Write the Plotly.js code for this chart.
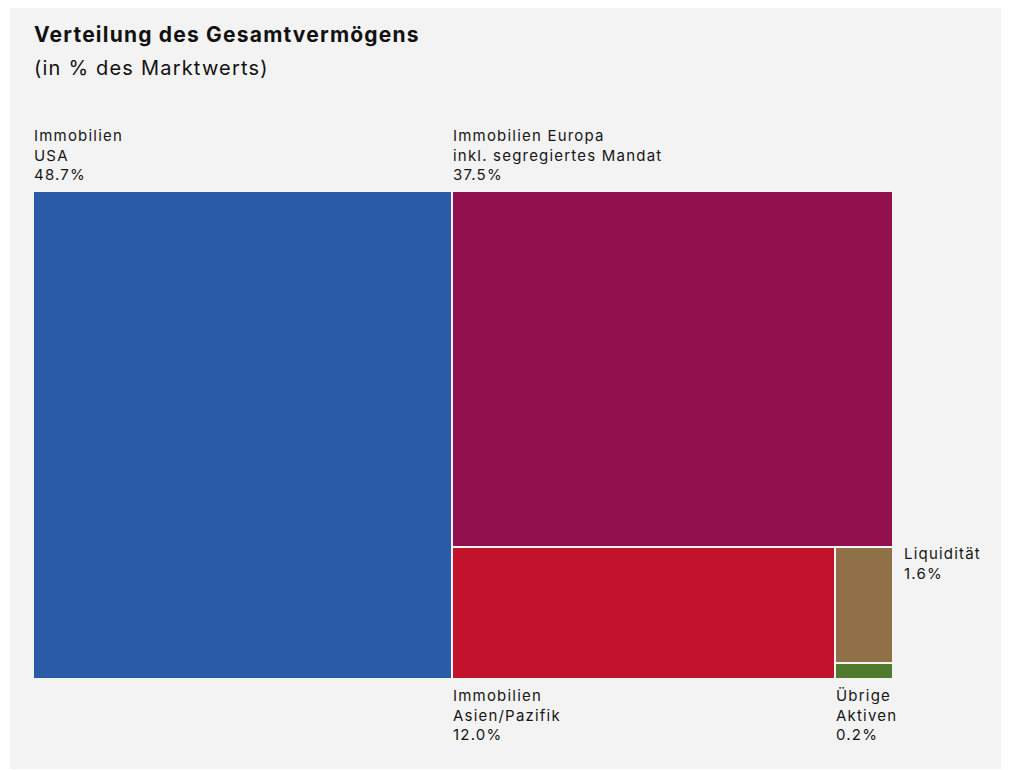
<!DOCTYPE html>
<html>
<head>
<meta charset="utf-8">
<script src="https://cdn.plot.ly/plotly-3.0.1.min.js"></script>
<style>
  html, body { margin: 0; padding: 0; background: #ffffff; }
  #chart { position: absolute; left: 10px; top: 8px; width: 991px; height: 761px; }
  #chart .annotation-text { letter-spacing: 1.2px; }
</style>
</head>
<body>
<div id="chart"></div>
<script>
// ---- Data ----
const categories = [
  'Immobilien<br>USA',
  'Immobilien Europa<br>inkl. segregiertes Mandat',
  'Immobilien<br>Asien/Pazifik',
  'Liquidität',
  'Übrige<br>Aktiven'
];
const shares = [48.7, 37.5, 12.0, 1.6, 0.2];
const colors = ['#295BA7', '#93104E', '#C3132C', '#8F7047', '#527A2F'];
const labelSide = ['top', 'top', 'bottom', 'right', 'bottom'];

// ---- Geometry (plot area in px, used only for gap size) ----
const W = 991, H = 761;
const M = { l: 24, r: 109, t: 184, b: 91 };
const plotW = W - M.l - M.r, plotH = H - M.t - M.b;
const gapX = 2 / plotW, gapY = 2 / plotH;

// slice-and-dice layout computed from the shares
function layoutRects(vals) {
  let x0 = 0, x1 = 1, y0 = 0, y1 = 1;
  let T = vals.reduce((a, b) => a + b, 0);
  const out = [];
  vals.forEach((v, i) => {
    if (i === vals.length - 1) {
      out.push({ x0, x1, y0, y1 });
    } else if (i % 2 === 0) {
      const w = (x1 - x0) * v / T;
      out.push({ x0, x1: x0 + w, y0, y1 });
      x0 += w;
    } else {
      const h = (y1 - y0) * v / T;
      out.push({ x0, x1, y0: y1 - h, y1 });
      y1 -= h;
    }
    T -= v;
  });
  return out;
}
const rects = layoutRects(shares);
const eps = 1e-9;
const drawn = rects.map(r => ({
  x0: r.x0 > eps ? r.x0 + gapX / 2 : r.x0,
  x1: r.x1 < 1 - eps ? r.x1 - gapX / 2 : r.x1,
  y0: r.y0 > eps ? r.y0 + gapY / 2 : r.y0,
  y1: r.y1 < 1 - eps ? r.y1 - gapY / 2 : r.y1
}));

const traces = drawn.map((r, i) => ({
  type: 'bar',
  x: [(r.x0 + r.x1) / 2],
  width: [r.x1 - r.x0],
  base: [r.y0],
  y: [r.y1 - r.y0],
  marker: { color: colors[i], line: { width: 0 } },
  name: categories[i].replace('<br>', ' '),
  hovertemplate: categories[i].replace('<br>', ' ') + ': ' + shares[i].toFixed(1) + '%<extra></extra>',
  showlegend: false
}));

const txtFont = { family: 'Inter, "Noto Sans", sans-serif', size: 15, color: '#161616' };
const annotations = [];
rects.forEach((r, i) => {
  const text = categories[i] + '<br>' + shares[i].toFixed(1) + '%';
  const side = labelSide[i];
  const a = { text, showarrow: false, xref: 'x', yref: 'y', align: 'left', xanchor: 'left', font: txtFont };
  const d = drawn[i];
  if (side === 'top') { a.x = d.x0; a.y = d.y1; a.yanchor = 'bottom'; a.yshift = 6; a.xshift = -2; }
  else if (side === 'bottom') { a.x = d.x0; a.y = d.y0; a.yanchor = 'top'; a.yshift = -6; a.xshift = -2; }
  else { a.x = d.x1; a.y = d.y1; a.yanchor = 'top'; a.xshift = 10; a.yshift = 6; }
  annotations.push(a);
});
annotations.push({
  text: '<b>Verteilung des Gesamtvermögens</b>', showarrow: false, align: 'left',
  xref: 'paper', yref: 'paper', x: 0, y: 1, xanchor: 'left', yanchor: 'top', yshift: 172, xshift: -2,
  font: { family: 'Inter, "Noto Sans", sans-serif', size: 21, color: '#111111' }
});
annotations.push({
  text: '(in % des Marktwerts)', showarrow: false, align: 'left',
  xref: 'paper', yref: 'paper', x: 0, y: 1, xanchor: 'left', yanchor: 'top', yshift: 138, xshift: -2,
  font: { family: 'Inter, "Noto Sans", sans-serif', size: 20, color: '#111111' }
});

const layout = {
  width: W, height: H,
  margin: M,
  paper_bgcolor: '#f3f3f3',
  plot_bgcolor: '#f3f3f3',
  barmode: 'overlay',
  bargap: 0,
  xaxis: { range: [0, 1], visible: false, fixedrange: true },
  yaxis: { range: [0, 1], visible: false, fixedrange: true },
  annotations,
  showlegend: false
};

Plotly.newPlot('chart', traces, layout, { displayModeBar: false });
</script>
</body>
</html>
